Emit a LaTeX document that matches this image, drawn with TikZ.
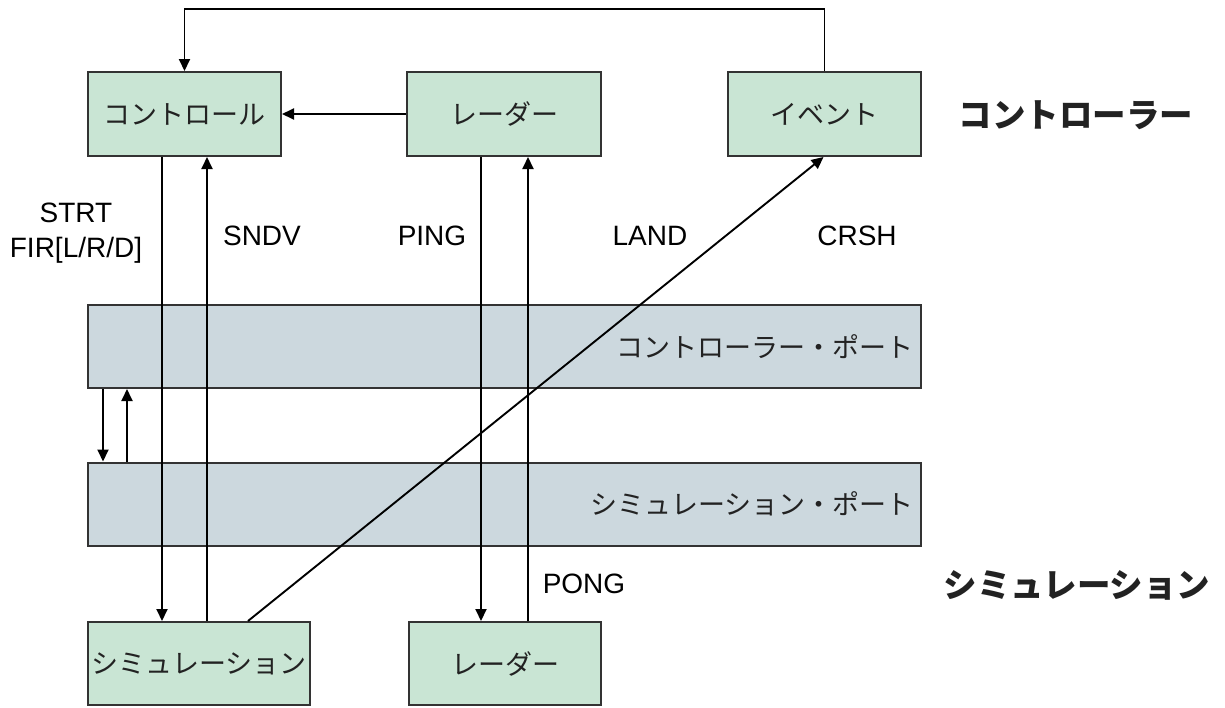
\documentclass[tikz,border=0pt]{standalone}
\usepackage{fontspec}
\setmainfont{Liberation Sans}
\newfontfamily\jp{Noto Sans CJK JP}
\usetikzlibrary{arrows.meta}
\definecolor{boxgreen}{HTML}{C9E5D4}
\definecolor{bandgray}{HTML}{CCD8DE}
\definecolor{edge}{HTML}{333333}
\definecolor{ink}{HTML}{222222}
\begin{document}
\begin{tikzpicture}[x=1pt,y=-1pt,
  gbox/.style={draw=edge,line width=2pt,fill=boxgreen,minimum height=84pt,inner sep=0pt,
    font=\jp\fontsize{27}{32}\selectfont,text=ink},
  band/.style={draw=edge,line width=2pt,fill=bandgray,minimum width=833pt,minimum height=83pt,inner sep=0pt},
  porttxt/.style={anchor=east,inner sep=0pt,font=\jp\fontsize{27}{32}\selectfont,text=ink},
  lbl/.style={inner sep=0pt,font=\fontsize{28}{35}\selectfont,text=black,align=center},
  side/.style={inner sep=0pt,font=\jp\bfseries\fontsize{33.5}{38}\selectfont,text=ink},
  arr/.style={line width=1.9pt,draw=black,-{Triangle[length=12pt,width=11pt]}},
  ln/.style={line width=1.9pt,draw=black}]
\useasboundingbox (0,0) rectangle (1225,707);
% bands
\node[band] (cport) at (504.5,346.5) {};
\node[band] (sport) at (504.5,504) {};
\node[porttxt] (cporttxt) at (914,347) {コントローラー・ポート};
\node[porttxt] (sporttxt) at (914,504) {シミュレーション・ポート};
% boxes
\node[gbox,minimum width=193pt] (ctrl) at (184.5,114) {コントロール};
\node[gbox,minimum width=194pt] (radT) at (504,114) {レーダー};
\node[gbox,minimum width=193pt] (evt) at (824.5,114) {イベント};
\node[gbox,minimum width=222pt,minimum height=83pt] (sim) at (199,663.5) {シミュレーション};
\node[gbox,minimum width=192pt,minimum height=83pt] (radB) at (505,663.5) {レーダー};
% side labels
\node[side] (lctrl) at (1076,115) {コントローラー};
\node[side] (lsim) at (1077,585) {シミュレーション};
% message labels
\node[lbl] (strt) at (76,233) {STRT\\FIR[L/R/D]};
\node[lbl] (sndv) at (262,236) {SNDV};
\node[lbl] (ping) at (432,236) {PING};
\node[lbl] (land) at (650,236) {LAND};
\node[lbl] (crsh) at (857,236) {CRSH};
\node[lbl] (pong) at (584,584) {PONG};
% connectors
\draw[arr] (evt.north) -- (evt.north |- 0,9) -| (ctrl.north);
\draw[arr] (radT.west) -- (ctrl.east);
\draw[arr] ([xshift=-22.5pt]ctrl.south) -- ([xshift=-37pt]sim.north);
\draw[arr] ([xshift=8pt]sim.north) -- ([xshift=22.5pt]ctrl.south);
\draw[arr] ([xshift=-23pt]radT.south) -- ([xshift=-24pt]radB.north);
\draw[arr] ([xshift=23pt]radB.north) -- ([xshift=24pt]radT.south);
\draw[arr] ([xshift=49pt]sim.north) -- ([xshift=-1pt]evt.south);
\draw[arr] ([xshift=16pt]cport.south west) -- ([xshift=16pt]sport.north west);
\draw[arr] ([xshift=40pt]sport.north west) -- ([xshift=40pt]cport.south west);
\end{tikzpicture}
\end{document}
